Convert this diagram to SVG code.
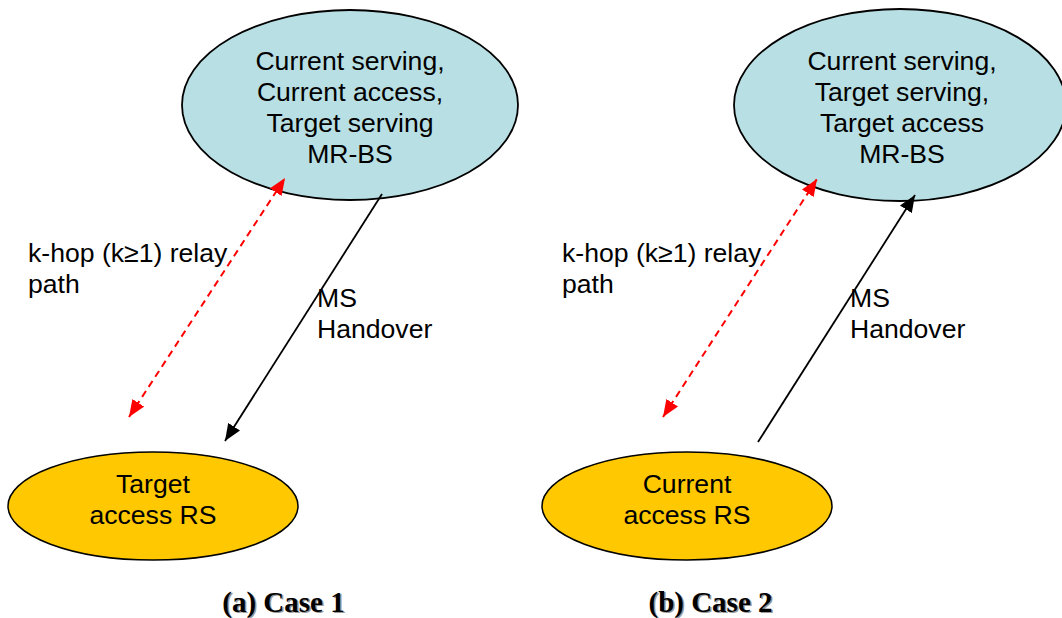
<svg xmlns="http://www.w3.org/2000/svg" width="1062" height="618" viewBox="0 0 1062 618">
<style>
.bs{fill:#B8DFE3;stroke:#000;stroke-width:1.8}
.rs{fill:#FFC800;stroke:#000;stroke-width:1.5}
.t{font-family:"Liberation Sans",Arial,sans-serif;font-size:26.6px;fill:#000}
.c{text-anchor:middle}
.cap{font-family:"Liberation Serif","Times New Roman",serif;font-size:29px;font-weight:bold;text-anchor:middle}
.red{stroke:#FF0000;stroke-width:2;stroke-dasharray:7 5;fill:none}
.blk{stroke:#000;stroke-width:1.8;fill:none}
</style>
<defs>
<marker id="ar" markerUnits="userSpaceOnUse" markerWidth="18" markerHeight="14" refX="17" refY="7" orient="auto-start-reverse"><path d="M0,0 L17,7 L0,14 z" fill="#FF0000"/></marker>
<marker id="ab" markerUnits="userSpaceOnUse" markerWidth="18" markerHeight="14" refX="17" refY="7" orient="auto"><path d="M0,0 L17,7 L0,14 z" fill="#000"/></marker>
</defs>
<rect width="1062" height="618" fill="#fff"/>
<g id="bs1">
<ellipse class="bs" cx="350" cy="105" rx="168" ry="95"/>
<text class="t c" x="350" y="70">Current serving,</text>
<text class="t c" x="350" y="101">Current access,</text>
<text class="t c" x="350" y="132">Target serving</text>
<text class="t c" x="350" y="163">MR-BS</text>
</g>
<g id="rs1">
<ellipse class="rs" cx="153" cy="506" rx="145" ry="54"/>
<text class="t c" x="153" y="493">Target</text>
<text class="t c" x="153" y="524">access RS</text>
</g>
<g id="bs2">
<ellipse class="bs" cx="900" cy="105" rx="166" ry="96"/>
<text class="t c" x="902" y="70">Current serving,</text>
<text class="t c" x="902" y="101">Target serving,</text>
<text class="t c" x="902" y="132">Target access</text>
<text class="t c" x="902" y="163">MR-BS</text>
</g>
<g id="rs2">
<ellipse class="rs" cx="687" cy="506" rx="145" ry="54"/>
<text class="t c" x="687" y="493">Current</text>
<text class="t c" x="687" y="524">access RS</text>
</g>
<g id="connectors">
<line class="red" x1="129" y1="417" x2="285" y2="178" marker-start="url(#ar)" marker-end="url(#ar)"/>
<line class="blk" x1="382" y1="194" x2="225" y2="441" marker-end="url(#ab)"/>
<line class="red" x1="663" y1="417" x2="817" y2="179" marker-start="url(#ar)" marker-end="url(#ar)"/>
<line class="blk" x1="758" y1="442" x2="915" y2="195" marker-end="url(#ab)"/>
</g>
<g id="labels">
<text class="t" x="28" y="262">k-hop (k≥1) relay</text>
<text class="t" x="28" y="293">path</text>
<text class="t" x="317" y="307">MS</text>
<text class="t" x="317" y="338">Handover</text>
<text class="t" x="562" y="262">k-hop (k≥1) relay</text>
<text class="t" x="562" y="293">path</text>
<text class="t" x="850" y="307">MS</text>
<text class="t" x="850" y="338">Handover</text>
</g>
<g id="captions">
<text class="cap" x="285" y="613" fill="#999">(a) Case 1</text>
<text class="cap" x="283.5" y="611.5" fill="#000">(a) Case 1</text>
<text class="cap" x="712" y="613" fill="#999">(b) Case 2</text>
<text class="cap" x="710.5" y="611.5" fill="#000">(b) Case 2</text>
</g>
</svg>
